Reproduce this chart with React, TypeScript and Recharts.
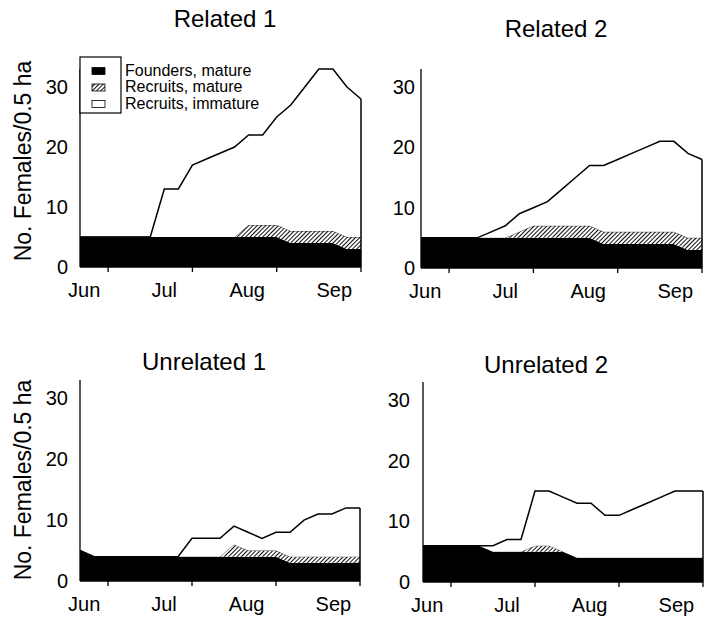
import React from "react";
import { AreaChart, Area, XAxis, YAxis, ReferenceLine } from "recharts";

// ---------- data ----------
const DAYS = [0, 5, 10, 15, 20, 25, 30, 35, 40, 45, 50, 55, 60, 65, 70, 75, 80, 85, 90, 95, 100];
const MONTH_LABELS = ["Jun", "Jul", "Aug", "Sep"];
const MONTH_LABEL_DAYS = [1.5, 30, 59.5, 90.5];
const TICK_MARK_DAYS = [10, 40, 70, 100];
const Y_TICKS = [0, 10, 20, 30];
const Y_MAX = 33;
const X_MAX = 100;

const SERIES_NAMES = ["Founders, mature", "Recruits, mature", "Recruits, immature"];
const PANEL_TITLES = ["Related 1", "Related 2", "Unrelated 1", "Unrelated 2"];
const Y_LABEL = "No. Females/0.5 ha";

// Related 1
const R1_FOUNDERS = [5, 5, 5, 5, 5, 5, 5, 5, 5, 5, 5, 5, 5, 5, 5, 4, 4, 4, 4, 3, 3];
const R1_REC_MATURE = [0, 0, 0, 0, 0, 0, 0, 0, 0, 0, 0, 0, 2, 2, 2, 2, 2, 2, 2, 2, 2];
const R1_REC_IMMATURE = [0, 0, 0, 0, 0, 0, 8, 8, 12, 13, 14, 15, 15, 15, 18, 21, 24, 27, 27, 25, 23];

// Related 2
const R2_FOUNDERS = [5, 5, 5, 5, 5, 5, 5, 5, 5, 5, 5, 5, 5, 4, 4, 4, 4, 4, 4, 3, 3];
const R2_REC_MATURE = [0, 0, 0, 0, 0, 0, 0, 1, 2, 2, 2, 2, 2, 2, 2, 2, 2, 2, 2, 2, 2];
const R2_REC_IMMATURE = [0, 0, 0, 0, 0, 1, 2, 3, 3, 4, 6, 8, 10, 11, 12, 13, 14, 15, 15, 14, 13];

// Unrelated 1
const U1_FOUNDERS = [5, 4, 4, 4, 4, 4, 4, 4, 4, 4, 4, 4, 4, 4, 4, 3, 3, 3, 3, 3, 3];
const U1_REC_MATURE = [0, 0, 0, 0, 0, 0, 0, 0, 0, 0, 0, 2, 1, 1, 1, 1, 1, 1, 1, 1, 1];
const U1_REC_IMMATURE = [0, 0, 0, 0, 0, 0, 0, 0, 3, 3, 3, 3, 3, 2, 3, 4, 6, 7, 7, 8, 8];

// Unrelated 2
const U2_FOUNDERS = [6, 6, 6, 6, 6, 5, 5, 5, 5, 5, 5, 4, 4, 4, 4, 4, 4, 4, 4, 4, 4];
const U2_REC_MATURE = [0, 0, 0, 0, 0, 0, 0, 0, 1, 1, 0, 0, 0, 0, 0, 0, 0, 0, 0, 0, 0];
const U2_REC_IMMATURE = [0, 0, 0, 0, 0, 1, 2, 2, 9, 9, 9, 9, 9, 7, 7, 8, 9, 10, 11, 11, 11];

const PANEL_SERIES = [
  [R1_FOUNDERS, R1_REC_MATURE, R1_REC_IMMATURE],
  [R2_FOUNDERS, R2_REC_MATURE, R2_REC_IMMATURE],
  [U1_FOUNDERS, U1_REC_MATURE, U1_REC_IMMATURE],
  [U2_FOUNDERS, U2_REC_MATURE, U2_REC_IMMATURE],
];

// ---------- layout / style ----------
const FONT = '"Liberation Sans", Arial, Helvetica, sans-serif';
const Y_AXIS_W = 60;
const M_TOP = 10;
const M_RIGHT = 8;
const X_AXIS_H = 40;

const PANEL_LAYOUT = [
  { plotLeft: 80, plotTop: 69, plotW: 281, plotH: 198, tickGap: 12, titleX: 225, titleY: 27 },
  { plotLeft: 421, plotTop: 69, plotW: 281, plotH: 199, tickGap: 6, titleX: 556, titleY: 37 },
  { plotLeft: 80, plotTop: 380, plotW: 280, plotH: 201, tickGap: 12, titleX: 204, titleY: 370 },
  { plotLeft: 423, plotTop: 382, plotW: 280, plotH: 200, tickGap: 13, titleX: 546, titleY: 373 },
];
const Y_LABEL_POS = [
  { x: 31, y: 161 },
  { x: 31, y: 480 },
];
const SERIES_FILLS = ["#000", "url(#hatch)", "#fff"];

const XTick = (props: any) => {
  const { x, y, payload } = props;
  const idx = MONTH_LABEL_DAYS.indexOf(payload.value);
  if (idx >= 0) {
    return (
      <text x={x} y={y + 30} textAnchor="middle" fontSize={20} fontFamily={FONT} fill="#000">
        {MONTH_LABELS[idx]}
      </text>
    );
  }
  return <line x1={x} y1={y} x2={x} y2={y + 5} stroke="#000" strokeWidth={1.3} />;
};

function Panel({ index }: { index: number }) {
  const L = PANEL_LAYOUT[index];
  const [F, M, I] = PANEL_SERIES[index];
  const data = DAYS.map((d, i) => ({ day: d, founders: F[i], recMature: M[i], recImmature: I[i] }));
  const last = DAYS.length - 1;
  const lastTotal = F[last] + M[last] + I[last];
  return (
    <div style={{ position: "absolute", left: L.plotLeft - Y_AXIS_W, top: L.plotTop - M_TOP }}>
      <AreaChart
        width={Y_AXIS_W + L.plotW + M_RIGHT}
        height={M_TOP + L.plotH + X_AXIS_H}
        data={data}
        margin={{ top: M_TOP, right: M_RIGHT, bottom: 0, left: 0 }}
      >
        <XAxis
          type="number"
          dataKey="day"
          domain={[0, X_MAX]}
          ticks={[...MONTH_LABEL_DAYS, ...TICK_MARK_DAYS]}
          interval={0}
          tick={<XTick />}
          tickLine={false}
          tickSize={0}
          tickMargin={0}
          height={X_AXIS_H}
          axisLine={{ stroke: "#000", strokeWidth: 1.3 }}
        />
        <YAxis
          type="number"
          domain={[0, Y_MAX]}
          ticks={Y_TICKS}
          interval={0}
          width={Y_AXIS_W}
          tickLine={false}
          tickSize={0}
          tickMargin={L.tickGap}
          tick={{ fill: "#000", fontSize: 20, fontFamily: FONT }}
          axisLine={{ stroke: "#000", strokeWidth: 1.3 }}
        />
        <Area
          type="linear"
          dataKey="founders"
          name={SERIES_NAMES[0]}
          stackId="s"
          fill={SERIES_FILLS[0]}
          fillOpacity={1}
          stroke="none"
          isAnimationActive={false}
        />
        <Area
          type="linear"
          dataKey="recMature"
          name={SERIES_NAMES[1]}
          stackId="s"
          fill={SERIES_FILLS[1]}
          fillOpacity={1}
          stroke="#000"
          strokeWidth={0.7}
          isAnimationActive={false}
        />
        <Area
          type="linear"
          dataKey="recImmature"
          name={SERIES_NAMES[2]}
          stackId="s"
          fill={SERIES_FILLS[2]}
          fillOpacity={1}
          stroke="#000"
          strokeWidth={1.5}
          isAnimationActive={false}
        />
        <ReferenceLine
          segment={[
            { x: X_MAX, y: 0 },
            { x: X_MAX, y: lastTotal },
          ]}
          stroke="#000"
          strokeWidth={1.5}
          ifOverflow="visible"
        />
      </AreaChart>
    </div>
  );
}

function Overlay() {
  const box = { x: 80, y: 57, w: 41, h: 56 };
  const sw = { x: 92, w: 13, h: 7 };
  const lineBase = [75.5, 92, 108.5];
  return (
    <svg
      width={710}
      height={630}
      style={{ position: "absolute", left: 0, top: 0, pointerEvents: "none" }}
    >
      <defs>
        <pattern id="hatch" width={3} height={3} patternUnits="userSpaceOnUse" patternTransform="rotate(45)">
          <rect width={3} height={3} fill="#fff" />
          <line x1={0} y1={0} x2={0} y2={3} stroke="#000" strokeWidth={1.9} />
        </pattern>
      </defs>
      {PANEL_TITLES.map((t, i) => (
        <text
          key={t}
          x={PANEL_LAYOUT[i].titleX}
          y={PANEL_LAYOUT[i].titleY}
          textAnchor="middle"
          fontSize={24}
          fontFamily={FONT}
          fill="#000"
        >
          {t}
        </text>
      ))}
      {Y_LABEL_POS.map((p, i) => (
        <text
          key={i}
          x={p.x}
          y={p.y}
          transform={`rotate(-90, ${p.x}, ${p.y})`}
          textAnchor="middle"
          fontSize={23}
          fontFamily={FONT}
          fill="#000"
        >
          {Y_LABEL}
        </text>
      ))}
      {/* legend */}
      <rect x={box.x} y={box.y} width={box.w} height={box.h} fill="#fff" stroke="#000" strokeWidth={1.2} />
      {SERIES_NAMES.map((name, i) => (
        <g key={name}>
          <rect
            x={sw.x}
            y={lineBase[i] - 8}
            width={sw.w}
            height={sw.h}
            fill={SERIES_FILLS[i]}
            stroke="#000"
            strokeWidth={0.8}
          />
          <text x={125} y={lineBase[i]} fontSize={16} fontFamily={FONT} fill="#000">
            {name}
          </text>
        </g>
      ))}
    </svg>
  );
}

export default function App() {
  return (
    <div style={{ position: "absolute", left: 0, top: 0, width: 710, height: 630, background: "#fff" }}>
      {PANEL_LAYOUT.map((_, i) => (
        <Panel key={i} index={i} />
      ))}
      <Overlay />
    </div>
  );
}
